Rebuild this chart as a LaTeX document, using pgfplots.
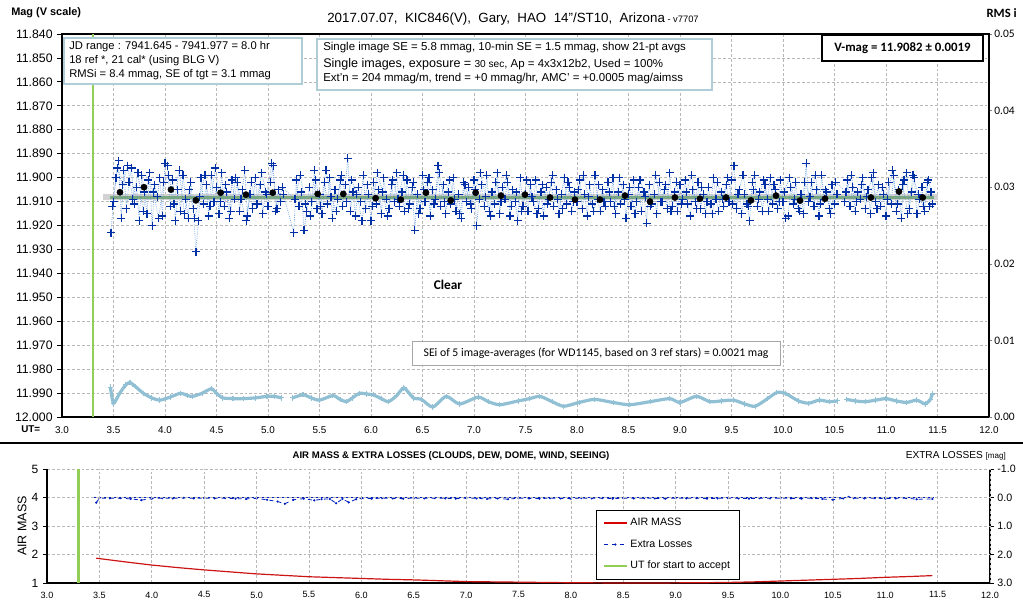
\documentclass[border=0pt]{standalone}
\usepackage{pgfplots}
\pgfplotsset{compat=1.18}
\usepackage{fontspec}
\setmainfont{Liberation Sans}
\newfontfamily\calib{Carlito}
\newcommand\fs[1]{\fontsize{#1}{#1}\selectfont}
\definecolor{ptblue}{RGB}{0,48,165}
\definecolor{dotline}{RGB}{120,165,225}
\definecolor{rmsblue}{RGB}{145,192,212}
\definecolor{greenv}{RGB}{146,205,85}
\definecolor{meangreen}{RGB}{95,155,105}
\definecolor{gridgray}{RGB}{185,185,185}
\definecolor{boxblue}{RGB}{175,205,215}
\definecolor{airred}{RGB}{205,20,20}
\definecolor{exblue}{RGB}{0,30,190}

\pgfplotstableread{
x y
3.475 11.923
3.500 11.910
3.525 11.900
3.550 11.893
3.575 11.917
3.600 11.897
3.625 11.913
3.650 11.902
3.675 11.896
3.700 11.911
3.725 11.904
3.750 11.918
3.775 11.899
3.800 11.906
3.825 11.915
3.850 11.898
3.875 11.920
3.900 11.903
3.925 11.908
3.950 11.900
3.975 11.916
4.000 11.894
4.025 11.895
4.050 11.912
4.075 11.901
4.100 11.918
4.125 11.905
4.150 11.914
4.175 11.899
4.200 11.909
4.225 11.917
4.250 11.902
4.275 11.913
4.300 11.931
4.325 11.918
4.350 11.900
4.375 11.911
4.400 11.903
4.425 11.916
4.450 11.899
4.475 11.910
4.500 11.904
4.525 11.915
4.550 11.898
4.575 11.912
4.600 11.906
4.625 11.917
4.650 11.901
4.675 11.909
4.700 11.902
4.725 11.914
4.750 11.905
4.775 11.897
4.800 11.916
4.825 11.907
4.850 11.913
4.875 11.900
4.900 11.911
4.925 11.903
4.950 11.915
4.975 11.906
5.000 11.912
5.025 11.902
5.050 11.895
5.075 11.914
5.100 11.905
5.125 11.910
5.150 11.907
5.250 11.923
5.275 11.901
5.300 11.912
5.325 11.906
5.350 11.922
5.375 11.914
5.400 11.904
5.425 11.910
5.450 11.897
5.475 11.913
5.500 11.907
5.525 11.915
5.550 11.902
5.575 11.911
5.600 11.900
5.625 11.917
5.650 11.905
5.675 11.909
5.700 11.901
5.725 11.912
5.750 11.903
5.775 11.892
5.800 11.914
5.825 11.906
5.850 11.916
5.875 11.904
5.900 11.910
5.925 11.899
5.950 11.913
5.975 11.907
6.000 11.918
6.025 11.902
6.050 11.911
6.075 11.905
6.100 11.915
6.125 11.900
6.150 11.909
6.175 11.913
6.200 11.903
6.225 11.910
6.250 11.898
6.275 11.912
6.300 11.906
6.325 11.914
6.350 11.901
6.375 11.911
6.400 11.904
6.425 11.922
6.450 11.907
6.475 11.913
6.500 11.899
6.525 11.910
6.550 11.902
6.575 11.916
6.600 11.905
6.625 11.909
6.650 11.895
6.675 11.912
6.700 11.903
6.725 11.915
6.750 11.906
6.775 11.911
6.800 11.900
6.825 11.914
6.850 11.907
6.875 11.917
6.900 11.902
6.925 11.910
6.950 11.904
6.975 11.913
7.000 11.901
7.025 11.920
7.050 11.909
7.075 11.903
7.100 11.912
7.125 11.899
7.150 11.914
7.175 11.906
7.200 11.911
7.225 11.898
7.250 11.915
7.275 11.904
7.300 11.909
7.325 11.902
7.350 11.916
7.375 11.905
7.400 11.910
7.425 11.918
7.450 11.900
7.475 11.912
7.500 11.907
7.525 11.914
7.550 11.903
7.575 11.910
7.600 11.901
7.625 11.913
7.650 11.906
7.675 11.916
7.700 11.904
7.725 11.909
7.750 11.902
7.775 11.912
7.800 11.905
7.825 11.915
7.850 11.907
7.875 11.900
7.900 11.911
7.925 11.904
7.950 11.914
7.975 11.906
8.000 11.910
8.025 11.901
8.050 11.913
8.075 11.907
8.100 11.916
8.125 11.903
8.150 11.911
8.175 11.899
8.200 11.909
8.225 11.914
8.250 11.905
8.275 11.912
8.300 11.902
8.325 11.910
8.350 11.900
8.375 11.915
8.400 11.906
8.425 11.911
8.450 11.903
8.475 11.917
8.500 11.907
8.525 11.912
8.550 11.901
8.575 11.910
8.600 11.904
8.625 11.914
8.650 11.906
8.675 11.919
8.700 11.903
8.725 11.911
8.750 11.907
8.775 11.915
8.800 11.902
8.825 11.910
8.850 11.905
8.875 11.913
8.900 11.898
8.925 11.912
8.950 11.906
8.975 11.914
9.000 11.903
9.025 11.909
9.050 11.901
9.075 11.911
9.100 11.916
9.125 11.905
9.150 11.910
9.175 11.902
9.200 11.913
9.225 11.907
9.250 11.915
9.275 11.904
9.300 11.911
9.325 11.900
9.350 11.909
9.375 11.914
9.400 11.906
9.425 11.912
9.450 11.903
9.475 11.910
9.500 11.901
9.525 11.895
9.550 11.913
9.575 11.905
9.600 11.915
9.625 11.907
9.650 11.911
9.675 11.918
9.700 11.902
9.725 11.899
9.750 11.912
9.775 11.906
9.800 11.914
9.825 11.903
9.850 11.909
9.875 11.900
9.900 11.911
9.925 11.905
9.950 11.913
9.975 11.901
10.000 11.910
10.025 11.917
10.050 11.916
10.075 11.904
10.100 11.911
10.125 11.902
10.150 11.913
10.175 11.907
10.200 11.915
10.225 11.894
10.250 11.910
10.275 11.902
10.300 11.912
10.325 11.905
10.350 11.916
10.375 11.899
10.400 11.909
10.425 11.906
10.450 11.913
10.475 11.903
10.500 11.911
10.525 11.907
10.600 11.910
10.625 11.901
10.650 11.912
10.675 11.904
10.700 11.914
10.725 11.906
10.750 11.909
10.775 11.900
10.800 11.913
10.825 11.905
10.850 11.915
10.875 11.898
10.900 11.910
10.925 11.903
10.950 11.912
10.975 11.907
11.000 11.916
11.025 11.902
11.050 11.911
11.075 11.899
11.100 11.914
11.125 11.905
11.150 11.917
11.175 11.901
11.200 11.898
11.225 11.913
11.250 11.906
11.275 11.900
11.300 11.915
11.325 11.909
11.350 11.904
11.375 11.914
11.400 11.902
11.425 11.912
11.450 11.911
}\magdata

\pgfplotstableread{
x y
3.4875 11.912
3.5375 11.896
3.5875 11.903
3.6375 11.895
3.6875 11.909
3.7375 11.898
3.7875 11.914
3.8375 11.901
3.8875 11.906
3.9375 11.917
3.9875 11.902
4.0375 11.899
4.0875 11.911
4.1375 11.897
4.1875 11.915
4.2375 11.905
4.2875 11.917
4.3375 11.908
4.3875 11.899
4.4375 11.912
4.4875 11.896
4.5375 11.910
4.5875 11.903
4.6375 11.914
4.6875 11.900
4.7375 11.909
4.7875 11.918
4.8375 11.902
4.8875 11.911
4.9375 11.898
4.9875 11.907
5.0375 11.894
5.0875 11.913
5.1375 11.904
5.2625 11.909
5.3125 11.899
5.3625 11.911
5.4125 11.916
5.4625 11.901
5.5125 11.912
5.5625 11.897
5.6125 11.908
5.6625 11.914
5.7125 11.899
5.7625 11.910
5.8125 11.901
5.8625 11.907
5.9125 11.918
5.9625 11.903
6.0125 11.912
6.0625 11.898
6.1125 11.906
6.1625 11.916
6.2125 11.901
6.2625 11.909
6.3125 11.899
6.3625 11.913
6.4125 11.902
6.4625 11.915
6.5125 11.905
6.5625 11.900
6.6125 11.911
6.6625 11.898
6.7125 11.910
6.7625 11.901
6.8125 11.909
6.8625 11.915
6.9125 11.903
6.9625 11.911
7.0125 11.905
7.0625 11.898
7.1125 11.908
7.1625 11.916
7.2125 11.902
7.2625 11.910
7.3125 11.899
7.3625 11.912
7.4125 11.906
7.4625 11.914
7.5125 11.901
7.5625 11.908
7.6125 11.915
7.6625 11.903
7.7125 11.911
7.7625 11.899
7.8125 11.909
7.8625 11.913
7.9125 11.902
7.9625 11.910
8.0125 11.905
8.0625 11.899
8.1125 11.908
8.1625 11.914
8.2125 11.903
8.2625 11.910
8.3125 11.906
8.3625 11.912
8.4125 11.900
8.4625 11.909
8.5125 11.904
8.5625 11.915
8.6125 11.901
8.6625 11.908
8.7125 11.912
8.7625 11.899
8.8125 11.910
8.8625 11.903
8.9125 11.914
8.9625 11.902
9.0125 11.911
9.0625 11.906
9.1125 11.899
9.1625 11.913
9.2125 11.904
9.2625 11.910
9.3125 11.915
9.3625 11.902
9.4125 11.909
9.4625 11.900
9.5125 11.911
9.5625 11.907
9.6125 11.899
9.6625 11.912
9.7125 11.905
9.7625 11.909
9.8125 11.901
9.8625 11.914
9.9125 11.903
9.9625 11.910
10.0125 11.906
10.0625 11.900
10.1125 11.909
10.1625 11.914
10.2125 11.902
10.2625 11.908
10.3125 11.899
10.3625 11.911
10.4125 11.905
10.4625 11.915
10.5125 11.902
10.6125 11.906
10.6625 11.899
10.7125 11.910
10.7625 11.903
10.8125 11.908
10.8625 11.900
10.9125 11.913
10.9625 11.904
11.0125 11.909
11.0625 11.897
11.1125 11.911
11.1625 11.903
11.2125 11.915
11.2625 11.899
11.3125 11.907
11.3625 11.912
11.4125 11.901
11.4375 11.906
}\magdataB

\pgfplotstableread{
x y
3.563 11.9061
3.796 11.9040
4.058 11.9050
4.300 11.9095
4.540 11.9063
4.786 11.9071
5.046 11.9063
5.482 11.9068
5.731 11.9068
6.045 11.9086
6.290 11.9092
6.534 11.9063
6.774 11.9095
7.016 11.9063
7.262 11.9075
7.495 11.9071
7.738 11.9083
7.980 11.9092
8.223 11.9092
8.466 11.9075
8.709 11.9100
8.951 11.9083
9.194 11.9088
9.447 11.9083
9.689 11.9095
9.932 11.9075
10.165 11.9096
10.408 11.9088
10.854 11.9083
11.126 11.9058
11.356 11.9083
}\avgdata

\pgfplotstableread{
x y
3.47 0.0039
3.50 0.0018
3.56 0.0031
3.62 0.0042
3.66 0.0045
3.71 0.0040
3.79 0.0031
3.87 0.0025
3.95 0.0022
4.05 0.0026
4.15 0.0031
4.22 0.0028
4.27 0.0027
4.36 0.0031
4.45 0.0037
4.50 0.0031
4.56 0.0025
4.66 0.0024
4.76 0.0024
4.88 0.0025
4.99 0.0027
5.06 0.0027
5.13 0.0025
}\rmsA

\pgfplotstableread{
x y
5.24 0.0025
5.34 0.0029
5.42 0.0025
5.50 0.0022
5.63 0.0028
5.70 0.0023
5.76 0.0020
5.82 0.0025
5.89 0.0031
5.96 0.0030
6.02 0.0029
6.10 0.0024
6.17 0.0020
6.25 0.0028
6.32 0.0038
6.41 0.0025
6.49 0.0023
6.60 0.0013
6.73 0.0027
6.86 0.0017
7.04 0.0026
7.14 0.0020
7.25 0.0016
7.43 0.0021
7.54 0.0024
7.64 0.0027
7.76 0.0020
7.87 0.0014
8.02 0.0019
8.17 0.0023
8.35 0.0019
8.51 0.0016
8.71 0.0020
8.90 0.0024
9.00 0.0019
9.16 0.0027
9.29 0.0020
9.40 0.0021
9.52 0.0022
9.63 0.0017
9.73 0.0014
9.85 0.0024
9.94 0.0032
10.02 0.0031
10.15 0.0021
10.25 0.0018
10.35 0.0022
10.45 0.0020
10.53 0.0021
}\rmsB

\pgfplotstableread{
x y
10.62 0.0023
10.70 0.0021
10.80 0.0020
10.90 0.0022
11.00 0.0024
11.10 0.0021
11.20 0.0019
11.30 0.0022
11.38 0.0017
11.43 0.0023
11.45 0.0030
}\rmsC

\pgfplotstableread{
x y
3.47 1.87
3.75 1.74
4.00 1.63
4.25 1.54
4.50 1.46
4.75 1.39
5.00 1.32
5.25 1.27
5.50 1.22
5.75 1.19
6.00 1.16
6.25 1.13
6.50 1.11
6.75 1.08
7.00 1.05
7.25 1.04
7.50 1.03
7.75 1.02
8.00 1.01
8.25 1.005
8.50 1.00
8.75 1.00
9.00 1.005
9.25 1.01
9.50 1.02
9.75 1.04
10.00 1.07
10.25 1.10
10.50 1.13
10.75 1.16
11.00 1.20
11.25 1.23
11.45 1.26
}\airmass

\pgfplotstableread{
x y
3.47 0.18
3.50 0.02
3.60 0.03
3.70 0.02
3.80 0.05
3.90 0.09
4.00 0.04
4.10 0.02
4.20 0.03
4.30 0.01
4.40 0.03
4.50 0.02
4.60 0.03
4.70 0.02
4.80 0.04
4.90 0.05
5.00 0.03
5.10 0.08
5.20 0.14
5.27 0.22
5.35 0.08
5.45 0.04
5.55 0.10
5.62 0.06
5.70 0.05
5.76 0.20
5.82 0.05
5.88 0.17
5.95 0.06
6.00 0.03
6.10 0.04
6.20 0.02
6.30 0.03
6.40 0.04
6.50 0.02
6.60 0.03
6.70 0.02
6.80 0.03
6.90 0.04
7.00 0.02
7.10 0.03
7.20 0.05
7.30 0.03
7.40 0.06
7.50 0.02
7.60 0.03
7.70 0.04
7.80 0.02
7.90 0.03
8.00 0.04
8.10 0.02
8.20 0.03
8.30 0.02
8.40 0.04
8.50 0.02
8.60 0.03
8.70 0.02
8.80 0.03
8.90 0.04
9.00 0.02
9.10 0.03
9.20 0.02
9.30 0.04
9.40 0.03
9.50 0.02
9.60 0.03
9.70 0.04
9.80 0.02
9.90 0.03
10.00 0.02
10.10 0.03
10.20 0.04
10.30 0.02
10.40 0.05
10.50 0.08
10.60 0.03
10.65 -0.02
10.70 0.02
10.80 0.03
10.90 0.02
11.00 0.04
11.10 0.03
11.20 0.02
11.30 0.06
11.45 0.05
}\extraloss

\begin{document}
\begin{tikzpicture}[x=0.75pt,y=-0.75pt]
\path[use as bounding box] (0,0) rectangle (1023,604);

% ---------------- top panel ----------------
\begin{axis}[
  at={(46.5pt,-312.75pt)}, anchor=south west,
  scale only axis, width=695.25pt, height=287.25pt,
  xmin=3, xmax=12, ymin=11.84, ymax=12.0, y dir=reverse,
  xtick={3,3.5,4,4.5,5,5.5,6,6.5,7,7.5,8,8.5,9,9.5,10,10.5,11,11.5,12},
  ytick={11.84,11.85,11.86,11.87,11.88,11.89,11.90,11.91,11.92,11.93,11.94,11.95,11.96,11.97,11.98,11.99,12.0},
  scaled y ticks=false, scaled x ticks=false,
  grid=major, grid style={gridgray, dash pattern=on 2.2pt off 1.5pt, line width=0.5pt},
  axis line style={black, line width=0.8pt},
  tick align=outside, ytick pos=left, xtick pos=bottom,
  xtick style={draw=none}, ytick style={black, line width=0.6pt}, major tick length=3.5pt,
  /pgf/number format/assume math mode=true,
  xticklabel style={font=\fs{7.4}, /pgf/number format/.cd, fixed, fixed zerofill, precision=1},
  yticklabel style={font=\fs{9.2}, /pgf/number format/.cd, fixed, fixed zerofill, precision=3},
]
\addplot[gray!35, line width=4.5pt, forget plot] coordinates {(3.40,11.9082) (11.50,11.9082)};
\addplot[greenv, line width=1.6pt, forget plot] coordinates {(3.3,11.84) (3.3,12.0)};
\addplot[dotline, densely dotted, line width=0.6pt, mark=+, mark size=3pt,
  mark options={solid, ptblue, line width=0.9pt}] table {\magdataB};
\addplot[dotline, densely dotted, line width=0.6pt, mark=+, mark size=3pt,
  mark options={solid, ptblue, line width=0.9pt}] table {\magdata};
\addplot[meangreen, line width=2.2pt, opacity=0.75] coordinates {(3.47,11.9082) (11.47,11.9082)};
\addplot[only marks, mark=*, mark size=2.3pt, black] table {\avgdata};
\end{axis}

\begin{axis}[
  at={(46.5pt,-312.75pt)}, anchor=south west,
  scale only axis, width=695.25pt, height=287.25pt,
  xmin=3, xmax=12, ymin=0, ymax=0.05,
  axis x line=none, axis y line*=right,
  ytick={0,0.01,0.02,0.03,0.04,0.05}, scaled y ticks=false,
  tick align=outside, major tick length=2.5pt,
  axis line style={black, line width=0.8pt},
  /pgf/number format/assume math mode=true,
  yticklabel style={font=\calib\fs{8.6}, xshift=-2pt, /pgf/number format/.cd, fixed, fixed zerofill, precision=2},
]
\addplot[rmsblue, line width=2.4pt, smooth, tension=0.4, mark=+, mark size=2pt, mark options={line width=0.8pt}] table {\rmsA};
\addplot[rmsblue, line width=2.4pt, smooth, tension=0.4, mark=+, mark size=2pt, mark options={line width=0.8pt}] table {\rmsB};
\addplot[rmsblue, line width=2.4pt, smooth, tension=0.4, mark=+, mark size=2pt, mark options={line width=0.8pt}] table {\rmsC};
\end{axis}

% ---------------- bottom panel ----------------
\begin{axis}[
  at={(35.25pt,-437.25pt)}, anchor=south west,
  scale only axis, width=707.25pt, height=85.5pt,
  xmin=3, xmax=12, ymin=-1, ymax=3, y dir=reverse,
  axis x line=none, axis y line*=right,
  ytick={-1,0,1,2,3},
  axis line style={black, line width=0.8pt, -},
  tick align=outside, major tick length=3pt, ytick style={black, line width=0.6pt},
  /pgf/number format/assume math mode=true,
  yticklabel style={font=\fs{8}, xshift=-1pt, /pgf/number format/.cd, fixed, fixed zerofill, precision=1},
]
\addplot[exblue, line width=0.8pt] coordinates {(3.43,0) (11.47,0)};
\addplot[exblue, line width=0.6pt, dashed, mark=*, mark size=0.5pt, mark options={solid}] table {\extraloss};
\end{axis}

\begin{axis}[
  at={(35.25pt,-437.25pt)}, anchor=south west,
  scale only axis, width=707.25pt, height=85.5pt,
  xmin=3, xmax=12, ymin=1, ymax=5,
  axis x line*=bottom, axis y line*=left,
  xtick={3,3.5,4,4.5,5,5.5,6,6.5,7,7.5,8,8.5,9,9.5,10,10.5,11,11.5,12},
  ytick={1,2,3,4,5},
  grid=major, grid style={gridgray, dash pattern=on 2.2pt off 1.5pt, line width=0.5pt},
  axis line style={black, line width=0.8pt, -},
  tick align=outside, xtick style={draw=none}, ytick style={black, line width=0.6pt}, major tick length=3pt,
  /pgf/number format/assume math mode=true,
  xticklabel style={font=\fs{6.8}, /pgf/number format/.cd, fixed, fixed zerofill, precision=1},
  yticklabel style={font=\fs{9}},
  legend style={at={(0.582,0.64)}, anchor=north west, line width=0.6pt, fill=white,
    font=\fs{8}, row sep=5pt, inner xsep=5pt, inner ysep=4pt},
  legend cell align=left,
]
\addplot[greenv, line width=1.6pt, forget plot] coordinates {(3.3,1) (3.3,5)};
\addplot[color=airred, line width=0.9pt,
  legend image code/.code={\draw[draw=red!85!black, line width=1.3pt] (0cm,0cm) -- (0.6cm,0cm);}] table {\airmass};
\addlegendentry{AIR MASS}
\addlegendimage{exblue, line width=0.6pt, dashed, mark=*, mark size=0.5pt, mark options={solid}}
\addlegendentry{Extra Losses}
\addlegendimage{greenv, line width=1.6pt}
\addlegendentry{UT for start to accept}
\end{axis}

% ---------------- texts ----------------
\node[anchor=west, font=\fs{10}, inner sep=0pt] at (327,19) {2017.07.07,\ \ KIC846(V),\ \ Gary,\ \ HAO\ \ 14"/ST10,\ \ Arizona{\fs{7}\ - v7707}};
\node[anchor=west, font=\bfseries\fs{8.2}, inner sep=0pt] at (11,13) {Mag (V scale)};
\node[anchor=east, font=\calib\bfseries\fs{9.5}, inner sep=0pt] at (1017,13) {RMS i};
\node[anchor=west, font=\bfseries\fs{7.4}, inner sep=0pt] at (21,429) {UT=};

\draw[boxblue, line width=0.8pt, fill=white] (64,38) rectangle (302,84);
\node[anchor=west, font=\fs{8.4}, inner sep=0pt] at (69,47) {JD range : 7941.645 - 7941.977 = 8.0 hr};
\node[anchor=west, font=\fs{8.4}, inner sep=0pt] at (69,61) {18 ref *, 21 cal* (using BLG V)};
\node[anchor=west, font=\fs{8.4}, inner sep=0pt] at (69,75) {RMSi = 8.4 mmag, SE of tgt = 3.1 mmag};

\draw[boxblue, line width=0.8pt, fill=white] (317,39) rectangle (712,90);
\node[anchor=west, font=\fs{8.6}, inner sep=0pt] at (323,48) {Single image SE = 5.8 mmag, 10-min SE = 1.5 mmag, show 21-pt avgs};
\node[anchor=west, font=\fs{8.6}, inner sep=0pt] at (323,64) {{\fs{9.4}Single images, exposure =} {\fs{7.6}30 sec}, Ap = 4x3x12b2, Used = 100\%};
\node[anchor=west, font=\fs{8.6}, inner sep=0pt] at (323,79) {Ext'n = 204 mmag/m, trend = +0 mmag/hr, AMC' = +0.0005 mag/aimss};

\draw[black, line width=0.8pt, fill=white] (822,35) rectangle (983,61);
\node[font=\calib\bfseries\fs{9.6}, inner sep=0pt] at (902.5,48) {V-mag = 11.9082 ± 0.0019};

\node[font=\calib\bfseries\fs{10}, inner sep=0pt] at (448,285) {Clear};

\draw[gray!70, line width=0.7pt, fill=white] (412,341) rectangle (780,365);
\node[font=\calib\fs{8.8}, inner sep=0pt] at (596,353) {SEi of 5 image-averages (for WD1145, based on 3 ref stars) = 0.0021 mag};

\draw[black, line width=1.1pt] (0,443) -- (1023,443);

\node[font=\bfseries\fs{7.2}, inner sep=0pt] at (451,456) {AIR MASS \& EXTRA LOSSES (CLOUDS, DEW, DOME, WIND, SEEING)};
\node[anchor=east, font=\fs{7.6}, inner sep=0pt] at (1006,456) {EXTRA LOSSES {\fs{6}[mag]}};
\node[rotate=90, font=\fs{9.4}, inner sep=0pt] at (22,526) {AIR MASS};
\end{tikzpicture}
\end{document}
